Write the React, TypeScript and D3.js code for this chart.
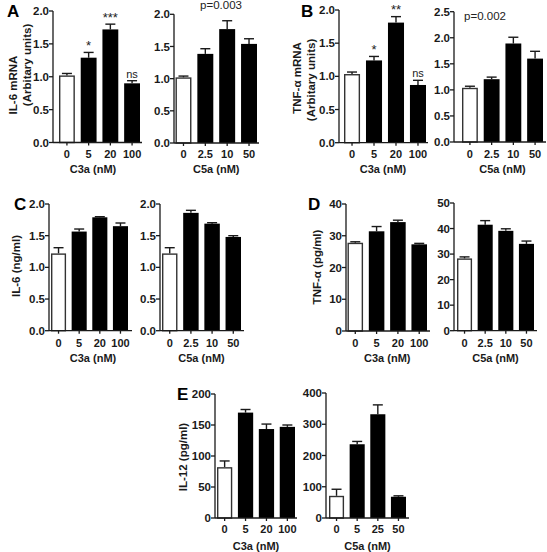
import React from "react";
import * as d3 from "d3";

// ---------- data ----------
const c3aDoses = ["0", "5", "20", "100"];
const c5aDoses = ["0", "2.5", "10", "50"];
const c5aDosesE = ["0", "5", "25", "50"];

const il6mrnaC3a = [1.02, 1.29, 1.72, 0.9];
const il6mrnaC3aErr = [0.03, 0.08, 0.08, 0.04];
const il6mrnaC5a = [1.02, 1.385, 1.77, 1.54];
const il6mrnaC5aErr = [0.02, 0.08, 0.13, 0.08];

const tnfmrnaC3a = [1.035, 1.24, 1.81, 0.87];
const tnfmrnaC3aErr = [0.03, 0.06, 0.09, 0.07];
const tnfmrnaC5a = [1.04, 1.205, 1.89, 1.6];
const tnfmrnaC5aErr = [0.03, 0.04, 0.12, 0.14];

const il6C3a = [1.22, 1.565, 1.79, 1.65];
const il6C3aErr = [0.09, 0.04, 0.01, 0.05];
const il6C5a = [1.22, 1.86, 1.69, 1.48];
const il6C5aErr = [0.09, 0.04, 0.015, 0.02];

const tnfC3a = [27.8, 31.4, 34.3, 27.3];
const tnfC3aErr = [0.3, 1.5, 0.6, 0.3];
const tnfC5a = [28.3, 41.5, 39.1, 34.0];
const tnfC5aErr = [0.6, 1.6, 0.8, 1.1];

const il12C3a = [82, 170, 143.5, 147];
const il12C3aErr = [10, 5, 8, 3];
const il12C5a = [71, 236, 332, 68];
const il12C5aErr = [21, 9, 30, 3];

const ticks2 = [0, 0.5, 1, 1.5, 2];
const ticks25 = [0, 0.5, 1, 1.5, 2, 2.5];
const ticks40 = [0, 10, 20, 30, 40];
const ticks50 = [0, 10, 20, 30, 40, 50];
const ticks200 = [0, 50, 100, 150, 200];
const ticks400 = [0, 100, 200, 300, 400];

const annA1 = ["", "*", "***", "ns"];
const annB1 = ["", "*", "**", "ns"];

const FONT = "'Liberation Sans', Arial, Helvetica, sans-serif";
const INK = "#1a1a1a";

type PanelProps = {
  cats: string[];
  values: number[];
  errs: number[];
  ticks: number[];
  fmt: string;
  axisX: number;
  y0: number;
  yTop: number;
  barStart: number;
  barEnd: number;
  axisEnd: number;
  tickLabelY: number;
  titleY: number;
  titleX?: number;
  xTitle: string;
  ann?: string[];
  pText?: { x: number; y: number; text: string };
};

function Panel(p: PanelProps) {
  const y = d3
    .scaleLinear()
    .domain([0, d3.max(p.ticks) as number])
    .range([p.y0, p.yTop]);
  const x = d3
    .scaleBand<string>()
    .domain(p.cats)
    .range([p.barStart, p.barEnd])
    .paddingInner(0.27)
    .paddingOuter(0);
  const bw = x.bandwidth();
  const f = d3.format(p.fmt);
  const capW = 10;
  return (
    <g>
      {p.cats.map((c, i) => {
        const v = p.values[i];
        const e = p.errs[i];
        const bx = x(c) as number;
        const cx = bx + bw / 2;
        const top = y(v);
        const et = y(v + e);
        const white = i === 0;
        const a = p.ann ? p.ann[i] : "";
        const isNs = a === "ns";
        return (
          <g key={c}>
            <line x1={cx} x2={cx} y1={top} y2={et} stroke={INK} strokeWidth={1.4} />
            <line x1={cx - capW / 2} x2={cx + capW / 2} y1={et} y2={et} stroke={INK} strokeWidth={1.4} />
            <rect
              x={white ? bx + 0.7 : bx}
              y={white ? top + 0.7 : top}
              width={white ? bw - 1.4 : bw}
              height={white ? p.y0 - top - 0.7 : p.y0 - top}
              fill={white ? "#fff" : "#000"}
              stroke={white ? "#333" : "none"}
              strokeWidth={1.4}
            />
            {a ? (
              <text
                x={cx}
                y={isNs ? et - 3 : et - 2.5}
                textAnchor="middle"
                fontSize={isNs ? 11 : 13}
                fontFamily={FONT}
                fill="#222"
              >
                {a}
              </text>
            ) : null}
            <line x1={cx} x2={cx} y1={p.y0} y2={p.y0 + 3} stroke={INK} strokeWidth={1.3} />
            <text
              x={cx}
              y={p.tickLabelY}
              textAnchor="middle"
              fontSize={11}
              fontWeight="bold"
              fontFamily={FONT}
              fill={INK}
            >
              {c}
            </text>
          </g>
        );
      })}
      {/* y axis */}
      <line x1={p.axisX} x2={p.axisX} y1={p.y0} y2={y(d3.max(p.ticks) as number)} stroke={INK} strokeWidth={1.3} />
      {p.ticks.map((t) => (
        <g key={t}>
          <line x1={p.axisX - 4} x2={p.axisX} y1={y(t)} y2={y(t)} stroke={INK} strokeWidth={1.3} />
          <text
            x={p.axisX - 4}
            y={y(t)}
            dy="0.36em"
            textAnchor="end"
            fontSize={11.5}
            fontWeight="bold"
            fontFamily={FONT}
            fill={INK}
          >
            {f(t)}
          </text>
        </g>
      ))}
      {/* x axis */}
      <line x1={p.axisX} x2={p.axisEnd} y1={p.y0} y2={p.y0} stroke={INK} strokeWidth={1.3} />
      <text
        x={p.titleX ?? (p.barStart + p.barEnd) / 2}
        y={p.titleY}
        textAnchor="middle"
        fontSize={11}
        fontWeight="bold"
        fontFamily={FONT}
        fill={INK}
      >
        {p.xTitle}
      </text>
      {p.pText ? (
        <text x={p.pText.x} y={p.pText.y} textAnchor="middle" fontSize={11.5} fontFamily={FONT} fill="#222">
          {p.pText.text}
        </text>
      ) : null}
    </g>
  );
}

function YTitle({ x, y, text }: { x: number; y: number; text: string }) {
  return (
    <text
      transform={`translate(${x},${y}) rotate(-90)`}
      textAnchor="middle"
      fontSize={11.5}
      fontWeight="bold"
      fontFamily={FONT}
      fill={INK}
    >
      {text}
    </text>
  );
}

function Letter({ x, y, text }: { x: number; y: number; text: string }) {
  return (
    <text x={x} y={y} fontSize={17} fontWeight="bold" fontFamily={FONT} fill="#000">
      {text}
    </text>
  );
}

export default function App() {
  return (
    <svg
      width={547}
      height={552}
      style={{ position: "absolute", left: 0, top: 0, background: "#fff" }}
    >
      <rect width={547} height={552} fill="#fff" />
      {/* A */}
      <Letter x={7} y={17} text="A" />
      <YTitle x={17} y={85} text="IL-6 mRNA" />
      <YTitle x={31} y={65} text="(Arbitary units)" />
      <Panel cats={c3aDoses} values={il6mrnaC3a} errs={il6mrnaC3aErr} ticks={ticks2} fmt=".1f"
        axisX={53} y0={142.5} yTop={11} barStart={59} barEnd={140} axisEnd={142}
        tickLabelY={158} titleY={173} titleX={93} xTitle="C3a (nM)" ann={annA1} />
      <Panel cats={c5aDoses} values={il6mrnaC5a} errs={il6mrnaC5aErr} ticks={ticks2} fmt=".1f"
        axisX={174} y0={143} yTop={14.3} barStart={175.5} barEnd={257} axisEnd={259}
        tickLabelY={158} titleY={173} xTitle="C5a (nM)" pText={{ x: 221, y: 9, text: "p=0.003" }} />

      {/* B */}
      <Letter x={301} y={17} text="B" />
      <YTitle x={301} y={78} text="TNF-α mRNA" />
      <YTitle x={315} y={80} text="(Arbitary units)" />
      <Panel cats={c3aDoses} values={tnfmrnaC3a} errs={tnfmrnaC3aErr} ticks={ticks2} fmt=".1f"
        axisX={339} y0={142.7} yTop={10} barStart={344} barEnd={426} axisEnd={428}
        tickLabelY={158} titleY={173} titleX={383} xTitle="C3a (nM)" ann={annB1} />
      <Panel cats={c5aDoses} values={tnfmrnaC5a} errs={tnfmrnaC5aErr} ticks={ticks25} fmt=".1f"
        axisX={454} y0={142} yTop={11.7} barStart={462} barEnd={543} axisEnd={546}
        tickLabelY={158} titleY={173} xTitle="C5a (nM)" pText={{ x: 485, y: 20, text: "p=0.002" }} />

      {/* C */}
      <Letter x={14} y={210} text="C" />
      <YTitle x={20} y={266} text="IL-6 (ng/ml)" />
      <Panel cats={c3aDoses} values={il6C3a} errs={il6C3aErr} ticks={ticks2} fmt=".1f"
        axisX={49} y0={330.7} yTop={204} barStart={51} barEnd={128} axisEnd={132}
        tickLabelY={347} titleY={362} titleX={93} xTitle="C3a (nM)" />
      <Panel cats={c5aDoses} values={il6C5a} errs={il6C5aErr} ticks={ticks2} fmt=".1f"
        axisX={160} y0={330.7} yTop={204} barStart={162} barEnd={241} axisEnd={244}
        tickLabelY={347} titleY={362} xTitle="C5a (nM)" />

      {/* D */}
      <Letter x={308} y={210} text="D" />
      <YTitle x={321} y={267} text="TNF-α (pg/ml)" />
      <Panel cats={c3aDoses} values={tnfC3a} errs={tnfC3aErr} ticks={ticks40} fmt="d"
        axisX={346} y0={331} yTop={204} barStart={347.5} barEnd={427} axisEnd={430}
        tickLabelY={347} titleY={362} xTitle="C3a (nM)" />
      <Panel cats={c5aDoses} values={tnfC5a} errs={tnfC5aErr} ticks={ticks50} fmt="d"
        axisX={454} y0={330.7} yTop={203} barStart={457} barEnd={534} axisEnd={537}
        tickLabelY={347} titleY={362} xTitle="C5a (nM)" />

      {/* E */}
      <Letter x={177} y={400} text="E" />
      <YTitle x={187} y={457} text="IL-12 (pg/ml)" />
      <Panel cats={c3aDoses} values={il12C3a} errs={il12C3aErr} ticks={ticks200} fmt="d"
        axisX={215} y0={518} yTop={394} barStart={217} barEnd={295} axisEnd={297}
        tickLabelY={533} titleY={550} xTitle="C3a (nM)" />
      <Panel cats={c5aDosesE} values={il12C5a} errs={il12C5aErr} ticks={ticks400} fmt="d"
        axisX={326} y0={518} yTop={393} barStart={329} barEnd={406} axisEnd={409}
        tickLabelY={533} titleY={550} xTitle="C5a (nM)" />
    </svg>
  );
}
